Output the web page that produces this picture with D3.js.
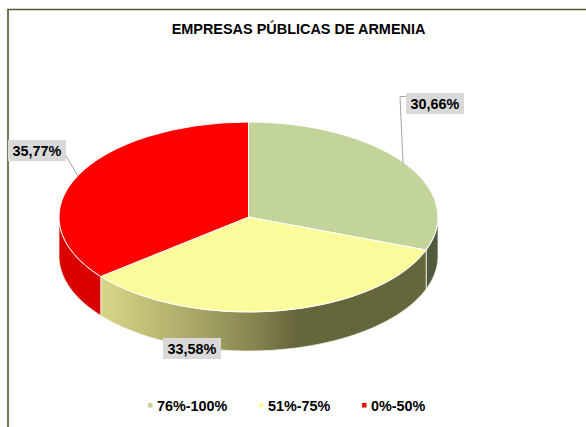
<!DOCTYPE html>
<html>
<head>
<meta charset="utf-8">
<script src="https://cdn.jsdelivr.net/npm/d3@7"></script>
<style>
html, body { margin: 0; padding: 0; background: #fff; }
svg { display: block; }
text { font-family: "Liberation Sans", Arial, sans-serif; font-weight: bold; fill: #000; }
</style>
</head>
<body>
<svg id="chart" width="586" height="427"></svg>
<script>
var titleText = 'EMPRESAS PÚBLICAS DE ARMENIA';
var categories = ['76%-100%', '51%-75%', '0%-50%'];
var values = [30.66, 33.58, 35.77];
var valueLabels = ['30,66%', '33,58%', '35,77%'];
var topColors = ['#c3d49b', '#fbfb9b', '#ff0000'];
var wallColors = ['#4f5a3e', '#66663c', '#d90000'];

var width = 586, height = 427;
var cx = 248.5, cy = 217, rx = 189.5, ry = 95, depth = 39;

var svg = d3.select('#chart');
var defs = svg.append('defs');

// yellow wall fades from light to dark, left to right
var grad = defs.append('linearGradient')
    .attr('id', 'wallGrad')
    .attr('gradientUnits', 'userSpaceOnUse')
    .attr('x1', 100).attr('x2', 426).attr('y1', 0).attr('y2', 0);
grad.append('stop').attr('offset', '0').attr('stop-color', '#d8d788');
grad.append('stop').attr('offset', '0.25').attr('stop-color', '#afae6c');
grad.append('stop').attr('offset', '0.46').attr('stop-color', '#8a8852');
grad.append('stop').attr('offset', '0.6').attr('stop-color', '#66663c');
grad.append('stop').attr('offset', '1').attr('stop-color', '#66663c');

// frame
svg.append('path')
    .attr('d', 'M8,427V9.5H586')
    .attr('fill', 'none')
    .attr('stroke', '#55562f')
    .attr('stroke-width', 1.6);

svg.append('text')
    .attr('x', 298.5)
    .attr('y', 34)
    .attr('text-anchor', 'middle')
    .style('font-size', '14.45px')
    .text(titleText);

var pie = d3.pie().sort(null).value(function (d) { return d; });
var arcs = pie(values);

var xAt = function (a) { return cx + rx * Math.sin(a); };
var yAt = function (a) { return cy - ry * Math.cos(a); };

// side walls, only the part of each slice that faces the viewer
var wall = d3.area()
    .x(function (a) { return xAt(a); })
    .y0(function (a) { return yAt(a); })
    .y1(function (a) { return yAt(a) + depth; });

arcs.forEach(function (d, i) {
    var a0 = Math.max(d.startAngle, Math.PI / 2);
    var a1 = Math.min(d.endAngle, Math.PI * 1.5);
    var steps = d3.range(a0, a1, 0.01).concat([a1]);
    svg.append('path')
        .attr('d', wall(steps))
        .attr('fill', i === 1 ? 'url(#wallGrad)' : wallColors[i])
        .attr('stroke', '#f4f4ea')
        .attr('stroke-width', 0.8);
});

// top face: unit arc squashed into the ellipse
var arc = d3.arc().innerRadius(0).outerRadius(1);
svg.append('g')
    .attr('transform', 'translate(' + cx + ',' + cy + ') scale(' + rx + ',' + ry + ')')
    .selectAll('path')
    .data(arcs)
    .enter()
    .append('path')
    .attr('d', arc)
    .attr('fill', function (d, i) { return topColors[i]; })
    .attr('stroke', '#fff')
    .attr('stroke-width', 1)
    .attr('vector-effect', 'non-scaling-stroke');

// leader lines
var leaderLine = d3.line();
var leaders = [
    [[406, 96.5], [400, 96.5], [403, 163]],
    null,
    [[66, 156], [78, 176]]
];
leaders.forEach(function (pts) {
    if (!pts) return;
    svg.append('path')
        .attr('d', leaderLine(pts))
        .attr('fill', 'none')
        .attr('stroke', '#a6a6a6')
        .attr('stroke-width', 1);
});

// data labels
var labelPos = [[435, 103.5], [192, 348.5], [37, 150.5]];
valueLabels.forEach(function (t, i) {
    var g = svg.append('g').attr('transform', 'translate(' + labelPos[i] + ')');
    g.append('rect')
        .attr('x', -29).attr('y', -10.5)
        .attr('width', 58).attr('height', 21)
        .attr('fill', '#d9d9d9');
    g.append('text')
        .attr('text-anchor', 'middle')
        .attr('y', 5.5)
        .style('font-size', '14.4px')
        .text(t);
});

// legend
var legendX = [148, 259, 362];
categories.forEach(function (t, i) {
    svg.append('rect')
        .attr('x', legendX[i]).attr('y', 403)
        .attr('width', 4.5).attr('height', 4.5)
        .attr('fill', topColors[i]);
    svg.append('text')
        .attr('x', legendX[i] + 9)
        .attr('y', 410.5)
        .style('font-size', '14.4px')
        .text(t);
});
</script>
</body>
</html>
